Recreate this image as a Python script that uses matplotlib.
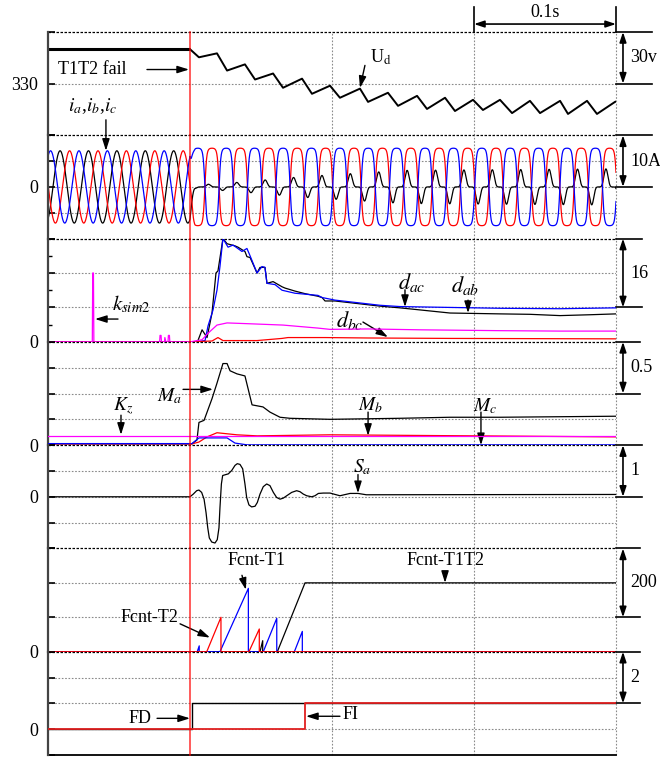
import numpy as np
import matplotlib
matplotlib.use('Agg')
import matplotlib.pyplot as plt
from matplotlib.transforms import blended_transform_factory as btf

plt.rcParams['font.family'] = ['Liberation Serif', 'DejaVu Serif']
plt.rcParams['mathtext.fontset'] = 'stix'

# ---------------- data ----------------
T_END = 0.4
T_FAULT = 0.1

# DC-link voltage Ud (V)
ud_t = [0.0, 0.1000, 0.1063, 0.1190, 0.1261, 0.1387, 0.1458, 0.1585, 0.1655, 0.1789, 0.1859,
        0.1986, 0.2056, 0.2197, 0.2254, 0.2394, 0.2465, 0.2599, 0.2669, 0.2796, 0.2866, 0.2993,
        0.3063, 0.3183, 0.3268, 0.3394, 0.3465, 0.3606, 0.3662, 0.3796, 0.3866, 0.3993, 0.4]
ud_v = [350.0, 350.0, 345.3, 347.6, 337.6, 341.2, 332.4, 335.9, 327.6, 332.9, 324.1,
        328.8, 321.8, 327.1, 319.4, 324.7, 317.1, 322.9, 315.3, 321.8, 314.1, 320.6,
        314.7, 320.6, 312.9, 320.0, 312.9, 320.0, 312.4, 320.0, 312.4, 319.4, 319.6]

# phase currents (parameters)
I_FREQ = 50.0
I_PRE_AMP = 7.0
I_POST_AMP = 7.5
PEAK_A, PEAK_B, PEAK_C = 0.0085, 0.0152, 0.0018
POST_PEAK_B = 0.0155
POST_FLATNESS = 2.5
IA_SPIKE_PEAK = 0.0129
ia_env_t = [0.1, 0.13, 0.18, 0.25, 0.4]
ia_env_v = [0.3, 0.8, 2.0, 3.2, 3.5]

# diagnostic variables
dab_t = [0, 0.1035, 0.1056, 0.1085, 0.1120, 0.1155, 0.1183, 0.1197, 0.1232, 0.1261, 0.1317, 0.1338,
         0.1387, 0.1401, 0.1423, 0.1472, 0.1493, 0.1528, 0.1542, 0.1585, 0.1648, 0.1669, 0.1739,
         0.1810, 0.1901, 0.1930, 0.1951, 0.2021, 0.2338, 0.2479, 0.2831, 0.3183, 0.3394, 0.3606,
         0.3817, 0.4]
dab_v = [0, 0, 0.3, 2.8, 1.0, 6.7, 16.0, 16.5, 24.0, 22.8, 22.3, 22.0, 21.0, 19.8, 19.6, 16.0,
         17.3, 17.3, 13.6, 14.0, 12.8, 12.5, 11.8, 11.2, 10.6, 10.3, 9.5, 9.5, 8.3, 7.9, 6.7, 6.5,
         6.4, 6.1, 6.3, 6.5]
dac_t = [0, 0.1035, 0.1106, 0.1127, 0.1162, 0.1190, 0.1211, 0.1232, 0.1268, 0.1303, 0.1366, 0.1401,
         0.1423, 0.1472, 0.1507, 0.1528, 0.1542, 0.1599, 0.1648, 0.1739, 0.1901, 0.1930, 0.2021,
         0.2338, 0.2479, 0.2831, 0.3183, 0.3606, 0.4]
dac_v = [0, 0, 0.3, 3.7, 7.4, 12.0, 17.5, 24.0, 22.0, 22.5, 21.0, 21.7, 20.0, 16.0, 17.5, 17.3,
         13.6, 13.3, 12.0, 11.3, 10.8, 10.3, 9.7, 8.5, 8.2, 8.0, 7.8, 7.7, 7.9]
dbc_t = [0, 0.1, 0.1155, 0.1197, 0.1232, 0.1261, 0.1472, 0.1648, 0.1690, 0.1951, 0.2254, 0.2831, 0.4]
dbc_v = [0, 0, 0.2, 1.0, 0.3, 0.3, 0.3, 0.8, 1.0, 1.0, 0.9, 0.8, 0.7]
ksim_t = [0, 0.0312, 0.0315, 0.0320, 0.0323, 0.0786, 0.0789, 0.0796, 0.0799, 0.0820, 0.0823, 0.0830,
          0.0845, 0.0848, 0.0855, 0.0858, 0.1, 0.1085, 0.1127, 0.1190, 0.1261, 0.1423, 0.1655,
          0.1901, 0.1986, 0.2254, 0.2620, 0.3183, 0.3606, 0.4]
ksim_v = [0, 0, 16, 16, 0, 0, 1.5, 1.5, 0, 0, 1.0, 0, 0, 1.5, 1.5, 0, 0,
          0.5, 2.0, 3.9, 4.4, 4.2, 3.9, 3.2, 2.9, 3.0, 2.8, 2.6, 2.5, 2.5]

# M indices
ma_t = [0, 0.1014, 0.1049, 0.1063, 0.1099, 0.1155, 0.1190, 0.1232, 0.1261, 0.1282, 0.1331, 0.1387,
        0.1437, 0.1514, 0.1563, 0.1634, 0.1704, 0.1986, 0.2479, 0.2831, 0.3183, 0.4]
ma_v = [0.013, 0.013, 0.05, 0.22, 0.24, 0.45, 0.60, 0.79, 0.79, 0.72, 0.69, 0.67,
        0.39, 0.37, 0.32, 0.27, 0.26, 0.25, 0.26, 0.27, 0.27, 0.28]
mb_t = [0, 0.1014, 0.1063, 0.1120, 0.1190, 0.1331, 0.1472, 0.1986, 0.3, 0.4]
mb_v = [0.012, 0.012, 0.03, 0.08, 0.12, 0.10, 0.09, 0.10, 0.09, 0.08]
mc_t = [0, 0.1014, 0.1063, 0.1261, 0.1317, 0.1401, 0.4]
mc_v = [0.015, 0.015, 0.07, 0.07, 0.02, 0.003, 0.003]
kz_t = [0, 0.4]
kz_v = [0.09, 0.09]

# Sa
sa_t = [0, 0.1000, 0.1023, 0.1047, 0.1063, 0.1082, 0.1099, 0.1113, 0.1125, 0.1136, 0.1153, 0.1176,
        0.1192, 0.1204, 0.1211, 0.1221, 0.1230, 0.1246, 0.1270, 0.1294, 0.1317, 0.1333, 0.1352,
        0.1371, 0.1387, 0.1399, 0.1415, 0.1434, 0.1458, 0.1474, 0.1493, 0.1516, 0.1540, 0.1563,
        0.1587, 0.1610, 0.1634, 0.1657, 0.1681, 0.1716, 0.1751, 0.1775, 0.1798, 0.1822, 0.1857,
        0.1880, 0.1904, 0.1939, 0.1986, 0.2056, 0.2127, 0.2183, 0.2242, 0.4]
sa_v = [0, 0, 0.052, 0.118, 0.131, 0.085, -0.046, -0.307, -0.601, -0.797, -0.876, -0.895,
        -0.830, -0.601, -0.209, 0.248, 0.412, 0.425, 0.444, 0.510, 0.608, 0.641, 0.627,
        0.542, 0.248, -0.013, -0.157, -0.196, -0.183, -0.111, 0.052, 0.196, 0.248, 0.216,
        0.085, -0.013, -0.046, -0.026, 0.020, 0.085, 0.118, 0.098, 0.052, 0.020, 0,
        0.020, 0.065, 0.072, 0.072, 0.020, 0.065, 0.065, 0.039, 0.045]

# fault counters
fcnt_t1_t = [0, 0.1051, 0.1065, 0.1065, 0.1211, 0.1411, 0.1411, 0.1516, 0.1611, 0.1611,
             0.1735, 0.1791, 0.1791, 0.4]
fcnt_t1_v = [0, 0, 17, 0, 0, 184, 0, 0, 97, 0, 0, 59, 0, 0]
fcnt_t2_t = [0, 0.1118, 0.1218, 0.1218, 0.1415, 0.1488, 0.1488, 0.4]
fcnt_t2_v = [0, 0, 100, 0, 0, 66, 0, 0]
fcnt_t1t2_t = [0, 0.1493, 0.1512, 0.1512, 0.1615, 0.1810, 0.4]
fcnt_t1t2_v = [0, 0, 32, 0, 0, 200, 200]

# flags
fd_t = [0, 0.1016, 0.1016, 0.4]
fd_v = [0, 0, 1, 1]
fi_t = [0, 0.181, 0.181, 0.4]
fi_v = [0, 0, 1, 1]

# panel settings
panel_ylim = [(300, 360), (-10, 10), (0, 24), (0, 1), (-1, 1), (0, 300), (-1, 3)]
panel_ticks = [[300, 330, 360], [-10, -5, 0, 5, 10], [0, 8, 16, 24], [0, .25, .5, .75, 1],
               [-1, -.5, 0, .5, 1], [0, 100, 200, 300], [-1, 0, 1, 2, 3]]
panel_ticklabel = [330, 0, 0, 0, 0, 0, 0]
scale_bars = [(360, 330, '30v', 1.063), (10, 0, '10A', 1.063), (24, 8, '16', 1.046),
              (1, 0.5, '0.5', 1.042), (1, 0, '1', 1.046), (300, 100, '200', 1.042),
              (3, 1, '2', 1.042)]

BLUE, RED, MAG = '#0000ff', '#ff0000', '#ff00ff'
FS = 13

# ---------------- figure ----------------
fig = plt.figure(figsize=(6.6, 7.58), dpi=100)
L, W = 48 / 660, 568 / 660
top_px, bot_px = 32, 755
n = 7
h_px = (bot_px - top_px) / n
axes = []
for i in range(n):
    y0 = 1 - (top_px + (i + 1) * h_px) / 758
    ax = fig.add_axes([L, y0, W, h_px / 758])
    axes.append(ax)

for i, ax in enumerate(axes):
    lo, hi = panel_ylim[i]
    ax.set_xlim(0, T_END)
    ax.set_ylim(lo, hi)
    ax.patch.set_alpha(0)
    for s in ['top', 'right', 'bottom']:
        ax.spines[s].set_visible(False)
    ax.spines['left'].set_color('#444444')
    ax.spines['left'].set_linewidth(1.6)
    ax.set_xticks([])
    ticks = panel_ticks[i]
    ax.set_yticks(ticks)
    ax.set_yticklabels([str(panel_ticklabel[i]) if v == panel_ticklabel[i] else '' for v in ticks])
    ax.tick_params(axis='y', direction='in', length=5, width=1.2, pad=7, labelsize=FS)
    if i == 2:
        ax.set_yticks([4, 12, 20], minor=True)
        ax.tick_params(axis='y', which='minor', direction='in', length=3, width=1.0)
    for v in ticks:
        if lo < v < hi:
            ax.axhline(v, color='#8a8a8a', ls=(0, (1.5, 1.5)), lw=0.8, zorder=0)
    ax.axhline(hi, color='k', ls=(0, (2, 1.2)), lw=0.9, zorder=0, clip_on=False)
    for tv in [0.2, 0.3, 0.4]:
        ax.axvline(tv, color='#8a8a8a', ls=(0, (1.5, 1.5)), lw=0.8, zorder=0, clip_on=False)
    ax.axvline(T_FAULT, color=RED, lw=1.2, alpha=0.75, zorder=10, clip_on=False)
    # scale bar
    tr = btf(ax.transAxes, ax.transData)
    ytop, ybot, lab, xend = scale_bars[i]
    for yy in (ytop, ybot):
        ax.plot([1.0, xend], [yy, yy], transform=tr, color='k', lw=1.2, clip_on=False)
    ax.annotate('', xy=(1.0123, ytop), xytext=(1.0123, ybot), xycoords=tr, textcoords=tr,
                arrowprops=dict(arrowstyle='<|-|>,head_length=0.6,head_width=0.2', color='k',
                                lw=1.2, shrinkA=0, shrinkB=0), annotation_clip=False)
    ax.text(1.025, (ytop + ybot) / 2, lab, transform=tr, ha='left', va='center', fontsize=FS)

axes[-1].axhline(panel_ylim[-1][0], color='k', lw=1.3, clip_on=False)

AP = dict(arrowstyle='-|>,head_length=0.7,head_width=0.22', color='k', lw=1.0, shrinkA=0, shrinkB=0)


def note(ax, text, txy, start, end, size=FS, ha='center'):
    ax.annotate('', xy=end, xytext=start, arrowprops=AP, annotation_clip=False)
    ax.text(txy[0], txy[1], text, ha=ha, va='center', fontsize=size, clip_on=False)


# Panel 1: Ud
ax = axes[0]
ax.plot(ud_t[:2], ud_v[:2], color='k', lw=2.2, solid_capstyle='butt')
ax.plot(ud_t[1:], ud_v[1:], color='k', lw=1.4)
note(ax, 'T1T2 fail', (0.007, 338.2), (0.0697, 338.2), (0.0993, 338.2), ha='left')
note(ax, r'U$_\mathrm{d}$', (0.2268, 345.5), (0.2232, 340.6), (0.2197, 327.5), ha='left')
trx = btf(ax.transData, ax.transAxes)
for tv in (0.3, 0.4):
    ax.plot([tv, tv], [1.0, 1.242], transform=trx, color='k', lw=1.2, clip_on=False)
ax.annotate('', xy=(0.3, 1.077), xytext=(0.4, 1.077), xycoords=trx, textcoords=trx,
            arrowprops=dict(arrowstyle='<|-|>,head_length=0.6,head_width=0.2', color='k', lw=1.2,
                            shrinkA=0, shrinkB=0), annotation_clip=False)
ax.text(0.35, 1.19, '0.1s', transform=trx, ha='center', va='center', fontsize=FS)

# Panel 2: currents
ax = axes[1]
t = np.linspace(0, T_END, 8001)
w = 2 * np.pi * I_FREQ
ia_pre = I_PRE_AMP * np.cos(w * (t - PEAK_A))
ib_pre = I_PRE_AMP * np.cos(w * (t - PEAK_B))
ic_pre = I_PRE_AMP * np.cos(w * (t - PEAK_C))
ib_post = I_POST_AMP * np.tanh(POST_FLATNESS * np.cos(w * (t - POST_PEAK_B))) / np.tanh(POST_FLATNESS)
ic_post = -ib_post
cs = np.cos(w * (t - IA_SPIKE_PEAK))
ia_post = np.interp(t, ia_env_t, ia_env_v) * np.sign(cs) * np.abs(cs) ** 5
blend = np.clip((t - T_FAULT) / 0.0035, 0, 1)
ia = (1 - blend) * ia_pre + blend * ia_post
ib = (1 - blend) * ib_pre + blend * ib_post
ic = (1 - blend) * ic_pre + blend * ic_post
ax.plot(t, ia, color='k', lw=0.9)
ax.plot(t, ib, color=RED, lw=0.9)
ax.plot(t, ic, color=BLUE, lw=0.9)
note(ax, r'$i_a$,$i_b$,$i_c$', (0.0317, 15.6), (0.0408, 13.0), (0.0408, 7.0), size=14)

# Panel 3: d values
ax = axes[2]
ax.plot(dab_t, dab_v, color='k', lw=0.9, zorder=2)
ax.plot(dac_t, dac_v, color=BLUE, lw=0.9, zorder=3)
ax.plot(dbc_t, dbc_v, color=RED, lw=0.9, zorder=4)
ax.plot(ksim_t, ksim_v, color=MAG, lw=0.9, zorder=5)
note(ax, r'$k_{sim2}$', (0.045, 8.6), (0.0493, 5.3), (0.0331, 5.3), size=15, ha='left')
note(ax, r'$d_{ac}$', (0.2563, 13.9), (0.2514, 12.1), (0.2514, 8.1), size=16)
note(ax, r'$d_{ab}$', (0.2937, 13.0), (0.2958, 9.7), (0.2958, 6.7), size=16)
note(ax, r'$d_{bc}$', (0.2127, 4.9), (0.2218, 4.6), (0.2394, 1.1), size=16)

# Panel 4: M
ax = axes[3]
ax.plot(ma_t, ma_v, color='k', lw=0.9, zorder=2)
ax.plot(mb_t, mb_v, color=RED, lw=0.9, zorder=3)
ax.plot(mc_t, mc_v, color=BLUE, lw=0.9, zorder=4)
ax.plot(kz_t, kz_v, color=MAG, lw=0.9, zorder=5)
note(ax, r'$M_a$', (0.0859, 0.47), (0.0951, 0.54), (0.1162, 0.54), size=14)
note(ax, r'$K_z$', (0.0528, 0.38), (0.0514, 0.29), (0.0514, 0.10), size=14)
note(ax, r'$M_b$', (0.2268, 0.39), (0.2254, 0.32), (0.2254, 0.09), size=14)
note(ax, r'$M_c$', (0.3077, 0.38), (0.3049, 0.32), (0.3049, 0.0), size=14)

# Panel 5: Sa
ax = axes[4]
ax.plot(sa_t, sa_v, color='k', lw=0.9)
note(ax, r'$S_a$', (0.2211, 0.57), (0.2183, 0.43), (0.2183, 0.07), size=14)

# Panel 6: Fcnt
ax = axes[5]
ax.plot(fcnt_t1t2_t, fcnt_t1t2_v, color='k', lw=0.9, zorder=2)
ax.plot(fcnt_t1_t, fcnt_t1_v, color=BLUE, lw=0.9, zorder=3)
ax.plot(fcnt_t2_t, fcnt_t2_v, color=RED, lw=0.9, zorder=4)
note(ax, 'Fcnt-T1', (0.1465, 264), (0.1366, 222), (0.1394, 180))
note(ax, 'Fcnt-T2', (0.092, 99), (0.093, 81), (0.1141, 41), ha='right')
note(ax, 'Fcnt-T1T2', (0.2796, 264), (0.2796, 229), (0.2796, 200))

# Panel 7: FD / FI
ax = axes[6]
ax.plot(fd_t, fd_v, color='k', lw=1.0, zorder=2)
ax.plot(fi_t, fi_v, color='#e02020', lw=1.3, zorder=3)
note(ax, 'FD', (0.0648, 0.42), (0.0768, 0.42), (0.1, 0.42))
note(ax, 'FI', (0.2077, 0.58), (0.2056, 0.5), (0.1817, 0.5), ha='left')

fig.savefig('out.png', dpi=100)
